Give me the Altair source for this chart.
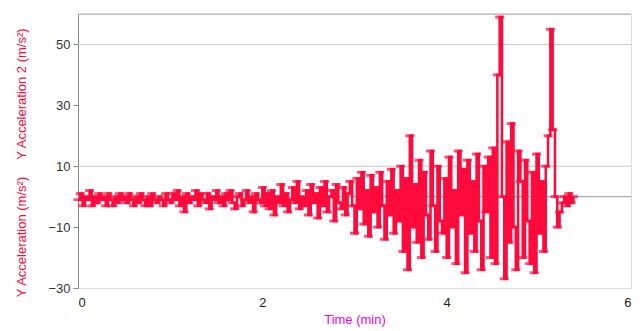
import altair as alt
import pandas as pd

# Y Acceleration samples (m/s^2), one every 0.025 min
accel = [
    -1, 1, -3, 0, -1, 2, -3, 0, -2, 1, -1, 0, -3, 1, -1, -3, 0, -2, 1, -1,
    0, -2, 1, -1, -3, 0, -2, 1, -1, -3, 0, -3, 1, -1, -2, 0, -1, -3, 1, -1,
    -2, 1, -1, 2, -3, 0, -5, 1, -2, 0, -1, 2, -3, 1, -1, -2, 1, -4, 0, -1,
    2, -2, 0, -3, 1, -1, 2, -2, -4, 0, 1, -3, -1, 2, -2, 0, -5, 1, -1, -2,
    3, -3, 1, -4, 2, -6, 0, -2, 4, -3, 1, -5, -1, 3, -2, 5, -4, 0, -3, 2,
    -6, 4, -2, 1, -7, 3, -3, 5, -5, 0, 2, -8, 4, -2, -4, 3, -6, 1, 5, -3,
    -12, 6, -4, 8, -9, 2, -13, 7, -5, 3, -10, 8, -3, -14, 5, -6, 9, -12, 2, -8,
    10, -18, 6, -24, 20, -10, 4, -15, 12, -20, 8, -6, -14, 15, -3, -18, 10, -8, -12, 6,
    -20, 13, -10, 2, -22, 15, -6, 9, -25, 12, -12, 5, -18, 14, -8, -24, 10, -5, 13, -20,
    16, -22, 40, 59, 0, -27, 18, -15, 24, -10, -24, 15, 5, -20, 12, -8, -22, 8, -25, 14,
    -12, 5, -18, 10, 20, 55, 22, 0, -10, -5,
    -2, 0, -3, 1, -2, 0,
]
step_min = 0.025
time = [round(i * step_min, 3) for i in range(len(accel))]

y_ticks = [-30, -10, 10, 30, 50]
x_ticks = [0, 2, 4, 6]
grid_lines = [10, 50]
zero_line = [0]
top_line = [60]

RED = "#ff0a3c"
FONT = "Liberation Sans"

df = pd.DataFrame({"time": time, "accel": accel})

xs = alt.Scale(domain=[0, 6], nice=False)
ys = alt.Scale(domain=[-30, 60], nice=False)

x_axis = alt.Axis(values=x_ticks, format="d", title="Time (min)", titleColor="#ee00ee",
                  titleFont=FONT, titleFontSize=13, titleFontWeight="normal",
                  labelFont=FONT, labelFontSize=13, labelColor="#222",
                  domain=False, ticks=False, grid=False, labelPadding=8, titlePadding=4)
y_axis = alt.Axis(values=y_ticks, title=None, labelFont=FONT, labelFontSize=13,
                  labelColor="#333", domainColor="#888", tickColor="#888",
                  tickSize=5, grid=False, labelPadding=3)

grid = alt.Chart(pd.DataFrame({"g": grid_lines})).mark_rule(
    color="#c8c8c8", strokeWidth=1).encode(y=alt.Y("g:Q", scale=ys, axis=y_axis))
zero = alt.Chart(pd.DataFrame({"g": zero_line})).mark_rule(
    color="#999", strokeWidth=1).encode(y=alt.Y("g:Q", scale=ys))
top = alt.Chart(pd.DataFrame({"g": top_line})).mark_rule(
    color="#aaa", strokeWidth=1).encode(y=alt.Y("g:Q", scale=ys))

line = alt.Chart(df).mark_line(color=RED, strokeWidth=2.5, interpolate="step-after").encode(
    x=alt.X("time:Q", scale=xs, axis=x_axis),
    y=alt.Y("accel:Q", scale=ys),
)
caps = alt.Chart(df).mark_tick(color=RED, orient="horizontal", size=9, thickness=3).encode(
    x=alt.X("time:Q", scale=xs),
    y=alt.Y("accel:Q", scale=ys),
)

title2 = alt.Chart(pd.DataFrame({"t": ["Y Acceleration 2 (m/s²)"]})).mark_text(
    angle=270, color=RED, font=FONT, fontSize=13, align="center", baseline="middle"
).encode(text="t:N", x=alt.value(-56), y=alt.value(80))
title1 = alt.Chart(pd.DataFrame({"t": ["Y Acceleration (m/s²)"]})).mark_text(
    angle=270, color=RED, font=FONT, fontSize=13, align="center", baseline="middle"
).encode(text="t:N", x=alt.value(-56), y=alt.value(223))

chart = alt.layer(grid, zero, top, line, caps, title2, title1).properties(
    width=553, height=274,
    autosize=alt.AutoSizeParams(type="none"),
    padding={"left": 70, "top": 6, "right": 5, "bottom": 41},
).configure_view(stroke=None).configure(background="white")

chart.save("out.html", embed_options={"renderer": "svg", "actions": False})
